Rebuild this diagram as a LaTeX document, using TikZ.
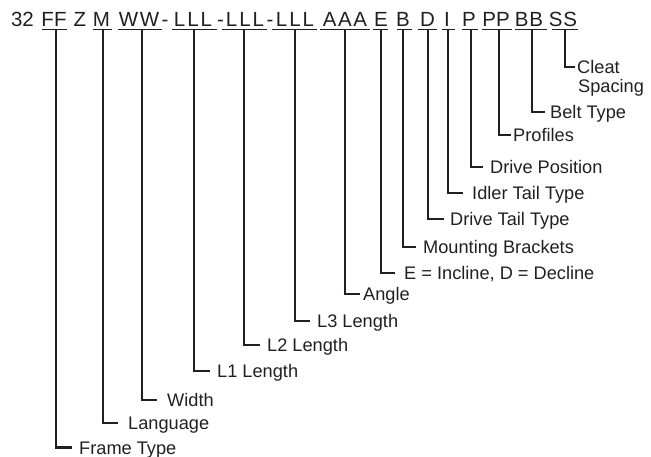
\documentclass[tikz,border=0pt]{standalone}
\usepackage{fontspec}
\setmainfont{Liberation Sans}
\definecolor{ink}{HTML}{231F20}
\begin{document}
\begin{tikzpicture}[x=1pt,y=-1pt,
  code/.style={anchor=base,inner sep=0pt,text=ink,font=\fontsize{20.5}{24}\selectfont},
  lbl/.style={anchor=west,inner sep=0pt,text=ink,text height=13pt,text depth=0pt,font=\fontsize{18.2}{22}\selectfont},
  uline/.style={draw=ink,line width=1.1pt},
  stemline/.style={draw=ink,line width=2.1pt}]
\useasboundingbox (0,0) rectangle (651,457);
\node[code] (n32) at (22.5,26.5) {32};
\node[code] (z) at (80,26.5) {Z};
\node[code] (d1) at (165,26.5) {-};
\node[code] (d2) at (220.5,26.5) {-};
\node[code] (d3) at (270,26.5) {-};
\foreach \nm/\txt/\cx/\ua/\ub/\sx/\ay/\ax/\lx/\lab in {
  ff/{FF}/54/42/67/56/447.5/72/79/{Frame Type},
  m/{M}/101.5/93/112/103/423/118/128/{Language},
  ww/{W\kern1.5pt W}/139/118/162/142/400/157/167/{Width},
  la/{L\kern2pt L\kern2pt L}/193/172/217/194/371/210/217/{L1 Length},
  lb/{L\kern2pt L\kern2pt L}/245/222/267/244/345/260/267/{L2 Length},
  lc/{L\kern2pt L\kern2pt L}/295/272/317/295/321/310/317/{L3 Length},
  aaa/{A\kern1.5pt A\kern1.5pt A}/345/320/370/345/294/360/363/{Angle},
  e/{E}/381/373/388/381/273/395/404/{E = Incline, D = Decline},
  b/{B}/403/397/412/403/247/416/423/{Mounting Brackets},
  d/{D}/427.5/418/437/428/219/444/450/{Drive Tail Type},
  i/{I}/447/442/455/448/193/463/472/{Idler Tail Type},
  p/{P}/469/462/478/471/167/483/490/{Drive Position},
  pp/{PP}/496/482/512/499/135/511/513/{Profiles},
  bb/{B\kern1pt B}/529/515/547/532/112/545/550/{Belt Type},
  ss/{S\kern1pt S}/563/552/578/565/67/575/577/{Cleat}}
{
  \node[code] (\nm) at (\cx,26.5) {\txt};
  \draw[uline] (\ua,29.3) -- (\ub,29.3);
  \coordinate (\nm-top) at (\sx,29.3);
  \coordinate (\nm-arm) at (\ax,\ay);
  \node[lbl] (\nm-lab) at (\lx,\ay) {\lab};
  \draw[stemline] (\nm-top) |- (\nm-arm);
}
\node[lbl] (ss-lab2) at (578,86) {Spacing};
\end{tikzpicture}
\end{document}
